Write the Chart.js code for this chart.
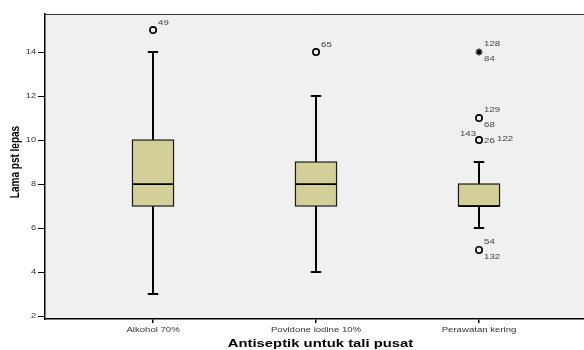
<!DOCTYPE html>
<html><head><meta charset="utf-8">
<script src="https://cdn.jsdelivr.net/npm/chart.js@4"></script>
<style>html,body{margin:0;padding:0;background:#fff}#wrap{width:584px;height:350px;position:relative}</style>
</head><body><div id="wrap"><canvas id="c" width="584" height="350"></canvas></div>
<script>
// ---- data ----
const categories = ['Alkohol 70%', 'Povidone iodine 10%', 'Perawatan kering'];
const whiskerLow = [3, 4, 6];
const q1 = [7, 7, 7];
const median = [8, 8, 7];
const q3 = [10, 9, 8];
const whiskerHigh = [14, 12, 9];
const yTicks = [2, 4, 6, 8, 10, 12, 14];
const outlierGroup = [0, 1, 2, 2, 2];
const outlierValue = [15, 14, 11, 10, 5];
const outlierIds = [['49'], ['65'], ['129', '68'], ['143', '26', '122'], ['54', '132']];
const extremeGroup = [2];
const extremeValue = [14];
const extremeIds = [['128', '84']];
const xTitle = 'Antiseptik untuk tali pusat';
const yTitle = 'Lama pst lepas';

// ---- layout / style ----
const FONT = '"Liberation Sans", Arial, sans-serif';
const labelPlacement = {
  1: [[5, -7, 'left']],
  2: [[5, -8, 'left'], [5, 6.5, 'left']],
  3: [[-3, -6, 'right'], [5, 1, 'left'], [18, -1, 'left']]
};
function sText(ctx, txt, x, y, align, sx) {
  ctx.save();
  ctx.translate(x, y);
  ctx.scale(sx, 1);
  ctx.textAlign = align;
  ctx.fillText(txt, 0, 0);
  ctx.restore();
}

const boxPlugin = {
  id: 'boxes',
  beforeDraw(chart) {
    const {ctx, chartArea: a} = chart;
    ctx.save();
    ctx.fillStyle = '#f0f0f0';
    ctx.fillRect(a.left, a.top, a.right - a.left, a.bottom - a.top);
    ctx.strokeStyle = '#333';
    ctx.lineWidth = 1;
    ctx.beginPath();
    ctx.moveTo(a.left, a.top + 0.5);
    ctx.lineTo(a.right, a.top + 0.5);
    ctx.stroke();
    ctx.restore();
  },
  beforeDatasetsDraw(chart) {
    const {ctx} = chart;
    const xs = chart.scales.x, ys = chart.scales.y;
    ctx.save();
    categories.forEach((c, i) => {
      const cx = Math.round(xs.getPixelForValue(i + 1));
      const half = xs.getPixelForValue(i + 1 + 0.126) - xs.getPixelForValue(i + 1);
      const cap = xs.getPixelForValue(i + 1 + 0.032) - xs.getPixelForValue(i + 1);
      const pLo = ys.getPixelForValue(whiskerLow[i]);
      const pHi = ys.getPixelForValue(whiskerHigh[i]);
      const p1 = ys.getPixelForValue(q1[i]);
      const p3 = ys.getPixelForValue(q3[i]);
      const pm = ys.getPixelForValue(median[i]);
      ctx.strokeStyle = '#000';
      ctx.lineWidth = 2;
      ctx.beginPath();
      ctx.moveTo(cx, pHi); ctx.lineTo(cx, p3);
      ctx.moveTo(cx, p1); ctx.lineTo(cx, pLo);
      ctx.moveTo(cx - cap, pHi); ctx.lineTo(cx + cap, pHi);
      ctx.moveTo(cx - cap, pLo); ctx.lineTo(cx + cap, pLo);
      ctx.stroke();
      ctx.fillStyle = '#d3cf99';
      ctx.fillRect(cx - half, p3, 2 * half, p1 - p3);
      ctx.strokeStyle = '#1a1a1a';
      ctx.lineWidth = 1.2;
      ctx.strokeRect(cx - half, p3, 2 * half, p1 - p3);
      ctx.strokeStyle = '#000';
      ctx.lineWidth = 1.8;
      ctx.beginPath();
      ctx.moveTo(cx - half, pm); ctx.lineTo(cx + half, pm);
      ctx.stroke();
    });
    ctx.restore();
  },
  afterDraw(chart) {
    const {ctx, chartArea: a} = chart;
    const xs = chart.scales.x, ys = chart.scales.y;
    ctx.save();
    // y tick labels
    ctx.font = '8px ' + FONT;
    ctx.fillStyle = '#333';
    ctx.textBaseline = 'middle';
    yTicks.forEach(v => sText(ctx, String(v), 36, ys.getPixelForValue(v), 'right', 1.15));
    // x tick labels
    ctx.textBaseline = 'alphabetic';
    categories.forEach((c, i) => sText(ctx, c, xs.getPixelForValue(i + 1), 332, 'center', 1.2));
    // outlier id labels
    ctx.fillStyle = '#444';
    ctx.textBaseline = 'middle';
    const drawIds = (groups, values, ids) => {
      groups.forEach((g, k) => {
        const px = xs.getPixelForValue(g + 1), py = ys.getPixelForValue(values[k]);
        const pl = labelPlacement[ids[k].length];
        ids[k].forEach((id, j) => sText(ctx, id, px + pl[j][0], py + pl[j][1], pl[j][2], 1.2));
      });
    };
    drawIds(outlierGroup, outlierValue, outlierIds);
    drawIds(extremeGroup, extremeValue, extremeIds);
    // axis titles
    ctx.fillStyle = '#000';
    ctx.font = 'bold 11px ' + FONT;
    ctx.textBaseline = 'alphabetic';
    sText(ctx, xTitle, (a.left + a.right) / 2 + 6, 347, 'center', 1.35);
    ctx.font = 'bold 10px ' + FONT;
    ctx.translate(16, 162);
    ctx.scale(1.25, 1);
    ctx.rotate(-Math.PI / 2);
    ctx.textAlign = 'center';
    ctx.textBaseline = 'middle';
    ctx.fillText(yTitle, 0, 0);
    ctx.restore();
  }
};

new Chart(document.getElementById('c'), {
  type: 'scatter',
  data: {
    datasets: [
      {
        label: 'outliers',
        data: outlierGroup.map((g, k) => ({x: g + 1, y: outlierValue[k]})),
        pointStyle: 'circle',
        radius: 3.2,
        borderWidth: 1.6,
        borderColor: '#000',
        backgroundColor: 'rgba(0,0,0,0)'
      },
      {
        label: 'extremes',
        data: extremeGroup.map((g, k) => ({x: g + 1, y: extremeValue[k]})),
        pointStyle: 'star',
        radius: 3.5,
        borderWidth: 1.3,
        borderColor: '#000',
        backgroundColor: '#000'
      }
    ]
  },
  options: {
    responsive: false,
    animation: false,
    events: [],
    layout: {autoPadding: false, padding: {top: 14, left: 0, right: 0, bottom: 0}},
    plugins: {legend: {display: false}, tooltip: {enabled: false}},
    scales: {
      x: {
        type: 'linear', min: 0.337, max: 3.644, position: 'bottom',
        border: {display: true, color: '#000', width: 1.5},
        grid: {display: true, drawOnChartArea: false, drawTicks: true, tickLength: 4, color: '#000', lineWidth: 1.5},
        ticks: {display: false},
        afterBuildTicks: s => { s.ticks = categories.map((c, i) => ({value: i + 1})); },
        afterFit: s => { s.height = 31; }
      },
      y: {
        type: 'linear', min: 1.864, max: 15.73, position: 'left',
        border: {display: true, color: '#000', width: 1.5},
        grid: {display: true, drawOnChartArea: false, drawTicks: true, tickLength: 7, color: '#000', lineWidth: 1},
        ticks: {display: false},
        afterBuildTicks: s => { s.ticks = yTicks.map(v => ({value: v})); },
        afterFit: s => { s.width = 45; }
      }
    }
  },
  plugins: [boxPlugin]
});
</script>
</body></html>
